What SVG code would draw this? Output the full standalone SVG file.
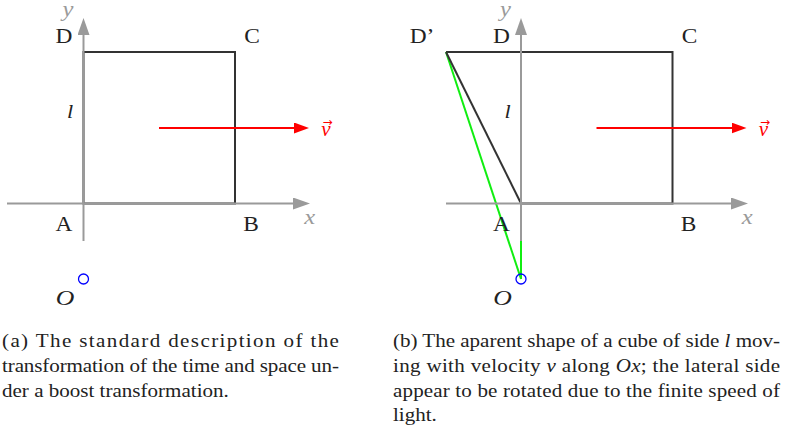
<svg xmlns="http://www.w3.org/2000/svg" width="786" height="430" viewBox="0 0 786 430">
  <style>
    .sq { fill: none; stroke: #333333; stroke-width: 2; }
    .ax { fill: none; stroke: #9a9a9a; stroke-width: 2; }
    .vel { fill: none; stroke: #ff0000; stroke-width: 2; }
    .ray { fill: none; stroke: #11ee11; stroke-width: 2; }
    .obs { fill: none; stroke: #0000ff; stroke-width: 1.3; }
    .wide { transform-box: fill-box; transform-origin: center; transform: scaleX(1.17); }
    .lbl { font-family: "Liberation Serif", "Times New Roman", serif; font-size: 20px; fill: #222222; text-anchor: middle; }
    .it { font-style: italic; }
    .ol { font-size: 22px; }
    .ll { font-size: 19px; }
    .axl { font-family: "Liberation Serif", "Times New Roman", serif; font-size: 21px; font-style: italic; fill: #9a9a9a; text-anchor: middle; }
    .vl { font-family: "Liberation Serif", "Times New Roman", serif; font-size: 21px; font-style: italic; fill: #ff0000; text-anchor: middle; }
    .vacc { font-family: "DejaVu Sans", sans-serif; font-size: 12px; font-style: normal; }
    .cap { font-family: "Liberation Serif", "Times New Roman", serif; font-size: 18px; fill: #222222; }
  </style>
  <defs>
    <marker id="ahGray" markerUnits="userSpaceOnUse" markerWidth="17" markerHeight="12" refX="1" refY="6" orient="auto">
      <path d="M0,0 L17,6 L0,12 Z" fill="#9a9a9a"/>
    </marker>
    <marker id="ahRed" markerUnits="userSpaceOnUse" markerWidth="15" markerHeight="11" refX="1" refY="5.5" orient="auto">
      <path d="M0,0 L15,5.5 L0,11 Z" fill="#ff0000"/>
    </marker>
  </defs>

  <!-- Panel (a) -->
  <g id="panel-a">
    <g id="square-a">
      <rect class="sq" x="83.5" y="52" width="151.5" height="151.5"/>
    </g>
    <g id="axes-a">
      <line class="ax" x1="7" y1="203.5" x2="294" y2="203.5" marker-end="url(#ahGray)"/>
      <line class="ax" x1="83.5" y1="241" x2="83.5" y2="34" marker-end="url(#ahGray)"/>
      <text class="axl wide" x="309.5" y="224">x</text>
      <text class="axl wide" x="68" y="16">y</text>
    </g>
    <g id="velocity-a">
      <line class="vel" x1="159" y1="128" x2="295" y2="128" marker-end="url(#ahRed)"/>
      <text class="vl" x="326" y="136">v<tspan class="vacc" x="327.5" y="125.5">→</tspan></text>
    </g>
    <g id="observer-a">
      <circle class="obs" cx="83.5" cy="279" r="5"/>
      <text class="lbl it ol wide" x="65" y="305">O</text>
    </g>
    <g id="labels-a">
      <text class="lbl wide" x="64" y="43">D</text>
      <text class="lbl wide" x="252" y="43">C</text>
      <text class="lbl wide" x="64" y="231">A</text>
      <text class="lbl wide" x="251" y="231">B</text>
      <text class="lbl it ll wide" x="70" y="118">l</text>
    </g>
  </g>

  <!-- Panel (b) -->
  <g id="panel-b">
    <g id="square-b">
      <polyline class="sq" points="446,52 672.5,52 672.5,203.5 521,203.5"/>
    </g>
    <g id="rays-b">
      <line class="ray" x1="446" y1="52" x2="521" y2="279"/>
      <line class="ray" x1="521" y1="203.5" x2="521" y2="279"/>
    </g>
    <g id="side-b">
      <line class="sq" x1="446" y1="52" x2="521" y2="203.5"/>
    </g>
    <g id="axes-b">
      <line class="ax" x1="446" y1="203.5" x2="732" y2="203.5" marker-end="url(#ahGray)"/>
      <line class="ax" x1="521" y1="241" x2="521" y2="34" marker-end="url(#ahGray)"/>
      <text class="axl wide" x="747" y="224">x</text>
      <text class="axl wide" x="505.5" y="16">y</text>
    </g>
    <g id="velocity-b">
      <line class="vel" x1="596.5" y1="128" x2="732.5" y2="128" marker-end="url(#ahRed)"/>
      <text class="vl" x="763.5" y="136">v<tspan class="vacc" x="765" y="125.5">→</tspan></text>
    </g>
    <g id="observer-b">
      <circle class="obs" cx="521" cy="279" r="5"/>
      <text class="lbl it ol wide" x="502.5" y="305">O</text>
    </g>
    <g id="labels-b">
      <text class="lbl wide" x="422" y="43">D’</text>
      <text class="lbl wide" x="501.5" y="43">D</text>
      <text class="lbl wide" x="689.5" y="43">C</text>
      <text class="lbl wide" x="501.5" y="231">A</text>
      <text class="lbl wide" x="688.5" y="231">B</text>
      <text class="lbl it ll wide" x="507.5" y="118">l</text>
    </g>
  </g>

  <!-- Captions -->
  <g id="caption-a" transform="translate(2,0) scale(1.17,1)">
    <text class="cap" x="0" y="347" textLength="288" lengthAdjust="spacing">(a) The standard description of the</text>
    <text class="cap" x="0" y="372" textLength="288" lengthAdjust="spacing">transformation of the time and space un-</text>
    <text class="cap" x="0" y="397">der a boost transformation.</text>
  </g>
  <g id="caption-b" transform="translate(393,0) scale(1.17,1)">
    <text class="cap" x="0" y="347" textLength="330.8" lengthAdjust="spacing">(b) The aparent shape of a cube of side <tspan class="it">l</tspan> mov-</text>
    <text class="cap" x="0" y="372" textLength="330.8" lengthAdjust="spacing">ing with velocity <tspan class="it">v</tspan> along <tspan class="it">Ox</tspan>; the lateral side</text>
    <text class="cap" x="0" y="397" textLength="330.8" lengthAdjust="spacing">appear to be rotated due to the finite speed of</text>
    <text class="cap" x="0" y="421">light.</text>
  </g>
</svg>
